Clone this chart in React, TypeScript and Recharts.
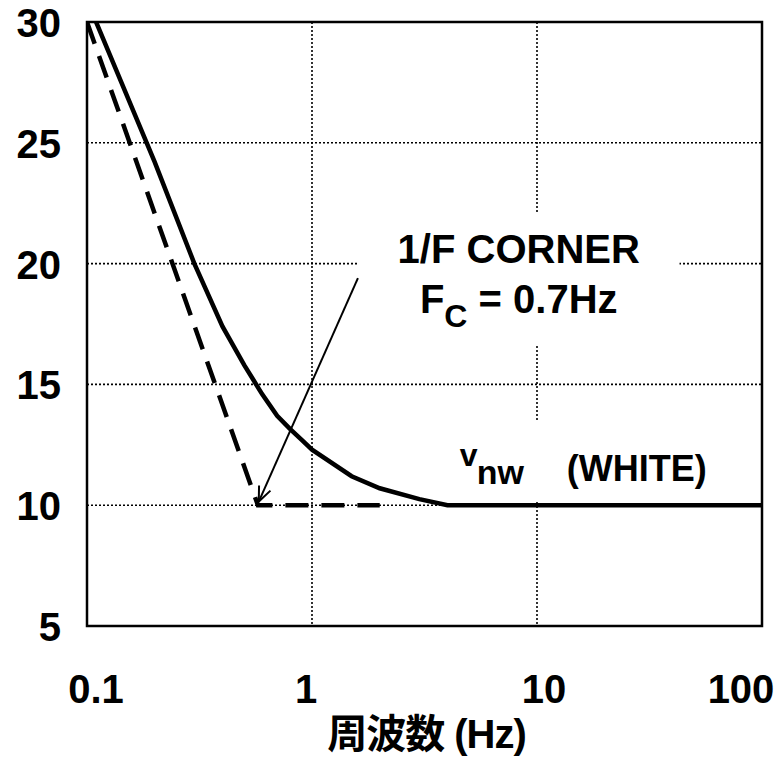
import {
  LineChart,
  Line,
  XAxis,
  YAxis,
  CartesianGrid,
  ReferenceArea,
  ReferenceLine,
} from 'recharts'

// measured noise density vs frequency (solid curve)
const solidFreq = [0.1, 0.2, 0.3, 0.4, 0.5, 0.6, 0.7, 0.8, 0.9, 1, 1.5, 2, 3, 4, 10, 100]
const solidNoise = [30.9, 24.2, 20.0, 17.4, 15.8, 14.6, 13.7, 13.15, 12.7, 12.3, 11.2, 10.7, 10.25, 10.0, 10, 10]

// asymptotes (dashed)
const dashFreq = [0.1, 0.575, 2]
const dashNoise = [30, 10, 10]

const xTicks = [0.1, 1, 10, 100]
const yTicks = [5, 10, 15, 20, 25, 30]

const solidData = solidFreq.map((f, i) => ({ f, v: solidNoise[i] }))
const dashData = dashFreq.map((f, i) => ({ f, v: dashNoise[i] }))

const FONT = '"Liberation Sans", Arial, "Noto Sans CJK JP", sans-serif'

// label nudges so the outer labels stay inside the picture
const xTickShift: Record<number, number> = { 0.1: 9, 1: -6, 10: 7, 100: -21 }

function XTick({ x, y, payload }: any) {
  const v = payload.value
  return (
    <text
      x={x + (xTickShift[v] ?? 0)}
      y={y + 69}
      textAnchor="middle"
      fontFamily={FONT}
      fontWeight="bold"
      fontSize={40}
      fill="#000"
    >
      {v}
    </text>
  )
}

function YTick({ y, payload }: any) {
  return (
    <text
      x={61}
      y={y + 15}
      textAnchor="end"
      fontFamily={FONT}
      fontWeight="bold"
      fontSize={40}
      fill="#000"
    >
      {payload.value}
    </text>
  )
}

function XTitle({ viewBox }: any) {
  const { x, y, width } = viewBox
  return (
    <text
      x={x + width / 2 + 2}
      y={y + 122}
      textAnchor="middle"
      fontFamily={FONT}
      fontWeight="bold"
      fontSize={40}
      letterSpacing={-1}
      fill="#000"
    >
      周波数 (Hz)
    </text>
  )
}

function CornerLabel({ viewBox }: any) {
  const cx = viewBox.x + viewBox.width / 2
  const top = viewBox.y
  return (
    <g fontFamily={FONT} fontWeight="bold" fill="#000">
      <text x={cx} y={top + 50} textAnchor="middle" fontSize={40}>
        1/F CORNER
      </text>
      <text x={cx} y={top + 100} textAnchor="middle" fontSize={40}>
        <tspan>F</tspan>
        <tspan fontSize={32} dy={14}>C</tspan>
        <tspan dy={-14}> = 0.7Hz</tspan>
      </text>
    </g>
  )
}

function WhiteLabel({ viewBox }: any) {
  const left = viewBox.x
  const top = viewBox.y
  return (
    <g fontFamily={FONT} fontWeight="bold" fill="#000">
      <text x={left + 20} y={top + 45} fontSize={32}>v</text>
      <text x={left + 37} y={top + 63} fontSize={34}>nw</text>
      <text x={left + 127} y={top + 60} fontSize={36}>(WHITE)</text>
    </g>
  )
}

function Arrow({ x1, y1, x2, y2 }: any) {
  const ang = Math.atan2(y2 - y1, x2 - x1)
  const len = 16
  const spread = 0.4
  const ax = x2 - len * Math.cos(ang - spread)
  const ay = y2 - len * Math.sin(ang - spread)
  const bx = x2 - len * Math.cos(ang + spread)
  const by = y2 - len * Math.sin(ang + spread)
  return (
    <g stroke="#000" strokeWidth={2} fill="none">
      <line x1={x1} y1={y1} x2={x2} y2={y2} />
      <polyline points={`${ax},${ay} ${x2},${y2} ${bx},${by}`} />
    </g>
  )
}

export default function App() {
  return (
    <div style={{ position: 'absolute', left: 0, top: 0, background: '#fff' }}>
      <LineChart width={782} height={757} margin={{ top: 22, right: 20, bottom: 0, left: 7 }}>
        <CartesianGrid stroke="#000" strokeWidth={1.6} strokeDasharray="2 2" />
        <XAxis
          dataKey="f"
          type="number"
          scale="log"
          domain={[0.1, 100]}
          ticks={xTicks}
          allowDataOverflow
          axisLine={false}
          tickLine={false}
          height={131}
          tick={<XTick />}
          label={<XTitle />}
        />
        <YAxis
          type="number"
          domain={[5, 30]}
          ticks={yTicks}
          allowDataOverflow
          axisLine={false}
          tickLine={false}
          width={80}
          tick={<YTick />}
        />
        <ReferenceArea
          x1={1.6}
          x2={43}
          y1={16.65}
          y2={22.1}
          fill="#fff"
          fillOpacity={1}
          stroke="none"
          label={<CornerLabel />}
        />
        <ReferenceArea
          x1={3.7}
          x2={65}
          y1={10.17}
          y2={13.47}
          fill="#fff"
          fillOpacity={1}
          stroke="none"
          label={<WhiteLabel />}
        />
        <ReferenceArea
          x1={0.1}
          x2={100}
          y1={5}
          y2={30}
          fill="none"
          stroke="#000"
          strokeWidth={2.5}
        />
        <Line
          data={dashData}
          dataKey="v"
          stroke="#000"
          strokeWidth={4.5}
          strokeDasharray="23 13"
          dot={false}
          isAnimationActive={false}
        />
        <Line
          data={solidData}
          dataKey="v"
          stroke="#000"
          strokeWidth={4.5}
          dot={false}
          isAnimationActive={false}
        />
        <ReferenceLine
          segment={[
            { x: 1.6, y: 19.4 },
            { x: 0.58, y: 10.15 },
          ]}
          shape={<Arrow />}
        />
      </LineChart>
    </div>
  )
}
